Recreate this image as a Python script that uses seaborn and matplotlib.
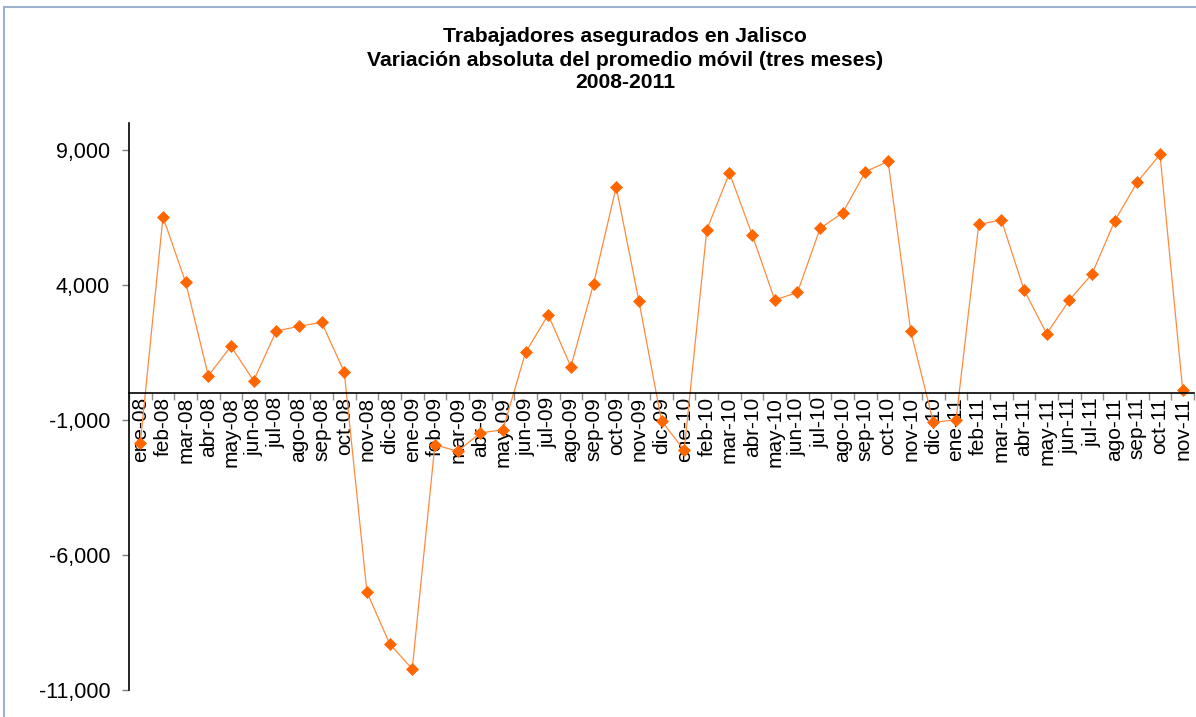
import numpy as np
import pandas as pd
import matplotlib
matplotlib.use("Agg")
import matplotlib.pyplot as plt
import matplotlib.ticker as mticker
from matplotlib.patches import Rectangle
import seaborn as sns

# ---- data ----
months = ["ene-08", "feb-08", "mar-08", "abr-08", "may-08", "jun-08", "jul-08", "ago-08",
          "sep-08", "oct-08", "nov-08", "dic-08", "ene-09", "feb-09", "mar-09", "abr-09",
          "may-09", "jun-09", "jul-09", "ago-09", "sep-09", "oct-09", "nov-09", "dic-09",
          "ene-10", "feb-10", "mar-10", "abr-10", "may-10", "jun-10", "jul-10", "ago-10",
          "sep-10", "oct-10", "nov-10", "dic-10", "ene-11", "feb-11", "mar-11", "abr-11",
          "may-11", "jun-11", "jul-11", "ago-11", "sep-11", "oct-11", "nov-11"]
variacion = [-1850, 6520, 4100, 640, 1730, 456, 2296, 2470,
             2615, 777, -7370, -9285, -10222, -1915, -2160, -1480,
             -1360, 1500, 2900, 974, 4037, 7630, 3418, -1026,
             -2126, 6048, 8148, 5863, 3444, 3726, 6096, 6678,
             8196, 8578, 2282, -1088, -989, 6245, 6407, 3814,
             2196, 3444, 4407, 6370, 7815, 8837, 122]
y_ticks = [-11000, -6000, -1000, 4000, 9000]
title_lines = ["Trabajadores asegurados en Jalisco",
               "Variación absoluta del promedio móvil (tres meses)",
               "2008-2011"]

df = pd.DataFrame({"pos": np.arange(len(months)), "mes": months, "valor": variacion})

sns.set_theme(style="white")
plt.rcParams["font.family"] = ["Liberation Sans", "DejaVu Sans"]

W, H = 1196, 717
fig = plt.figure(figsize=(W / 100, H / 100), dpi=100)
ax = fig.add_axes([129 / W, 1 - 690 / H, (1194 - 129) / W, (690 - 123) / H])

sns.lineplot(data=df, x="pos", y="valor", ax=ax, color="#FF8A3D", linewidth=0.9,
             marker="D", markersize=6.5, markerfacecolor="#FF6600",
             markeredgecolor="#FF6600", markeredgewidth=0.5)

ax.set_xlim(-0.5, len(months) - 0.5)
ax.set_ylim(-11000, 10000)
ax.set_xlabel("")
ax.set_ylabel("")

# spines
for s in ["top", "right"]:
    ax.spines[s].set_visible(False)
ax.spines["left"].set_color("black")
ax.spines["left"].set_linewidth(1.2)
ax.spines["left"].set_bounds(-11000, 10000)
ax.spines["bottom"].set_position(("data", 0))
ax.spines["bottom"].set_color("black")
ax.spines["bottom"].set_linewidth(1.2)

# y ticks
ax.set_yticks(y_ticks)
ax.yaxis.set_major_formatter(mticker.FuncFormatter(lambda v, p: f"{int(v):,}"))
ax.tick_params(axis="y", which="major", direction="out", length=5, width=1,
               color="#808080", pad=8.5, labelsize=15.5, labelcolor="black", left=True)

# x ticks: labels at centers, tick marks at boundaries
ax.set_xticks(df["pos"])
ax.set_xticklabels(df["mes"], rotation=90, va="top", ha="center")
ax.set_xticks(np.arange(-0.5, len(months), 1.0), minor=True)
ax.tick_params(axis="x", which="major", length=0, pad=3, labelsize=15, labelcolor="black")
ax.tick_params(axis="x", which="minor", direction="out", length=5, width=1,
               color="#909090", bottom=True)
ax.grid(False)

# title
for i, line in enumerate(title_lines):
    fig.text(625 / W, 1 - (37 + 23 * i) / H, line, ha="center", va="center",
             fontsize=15.2, fontweight="bold", color="black")

# chart frame (top and left edges visible)
fig.patches.append(Rectangle((4 / W, -0.1), 1.2, 1 - 7 / H + 0.1, transform=fig.transFigure,
                             fill=False, edgecolor="#9DB1CF", linewidth=1.5))

fig.savefig("out.png", dpi=100)
